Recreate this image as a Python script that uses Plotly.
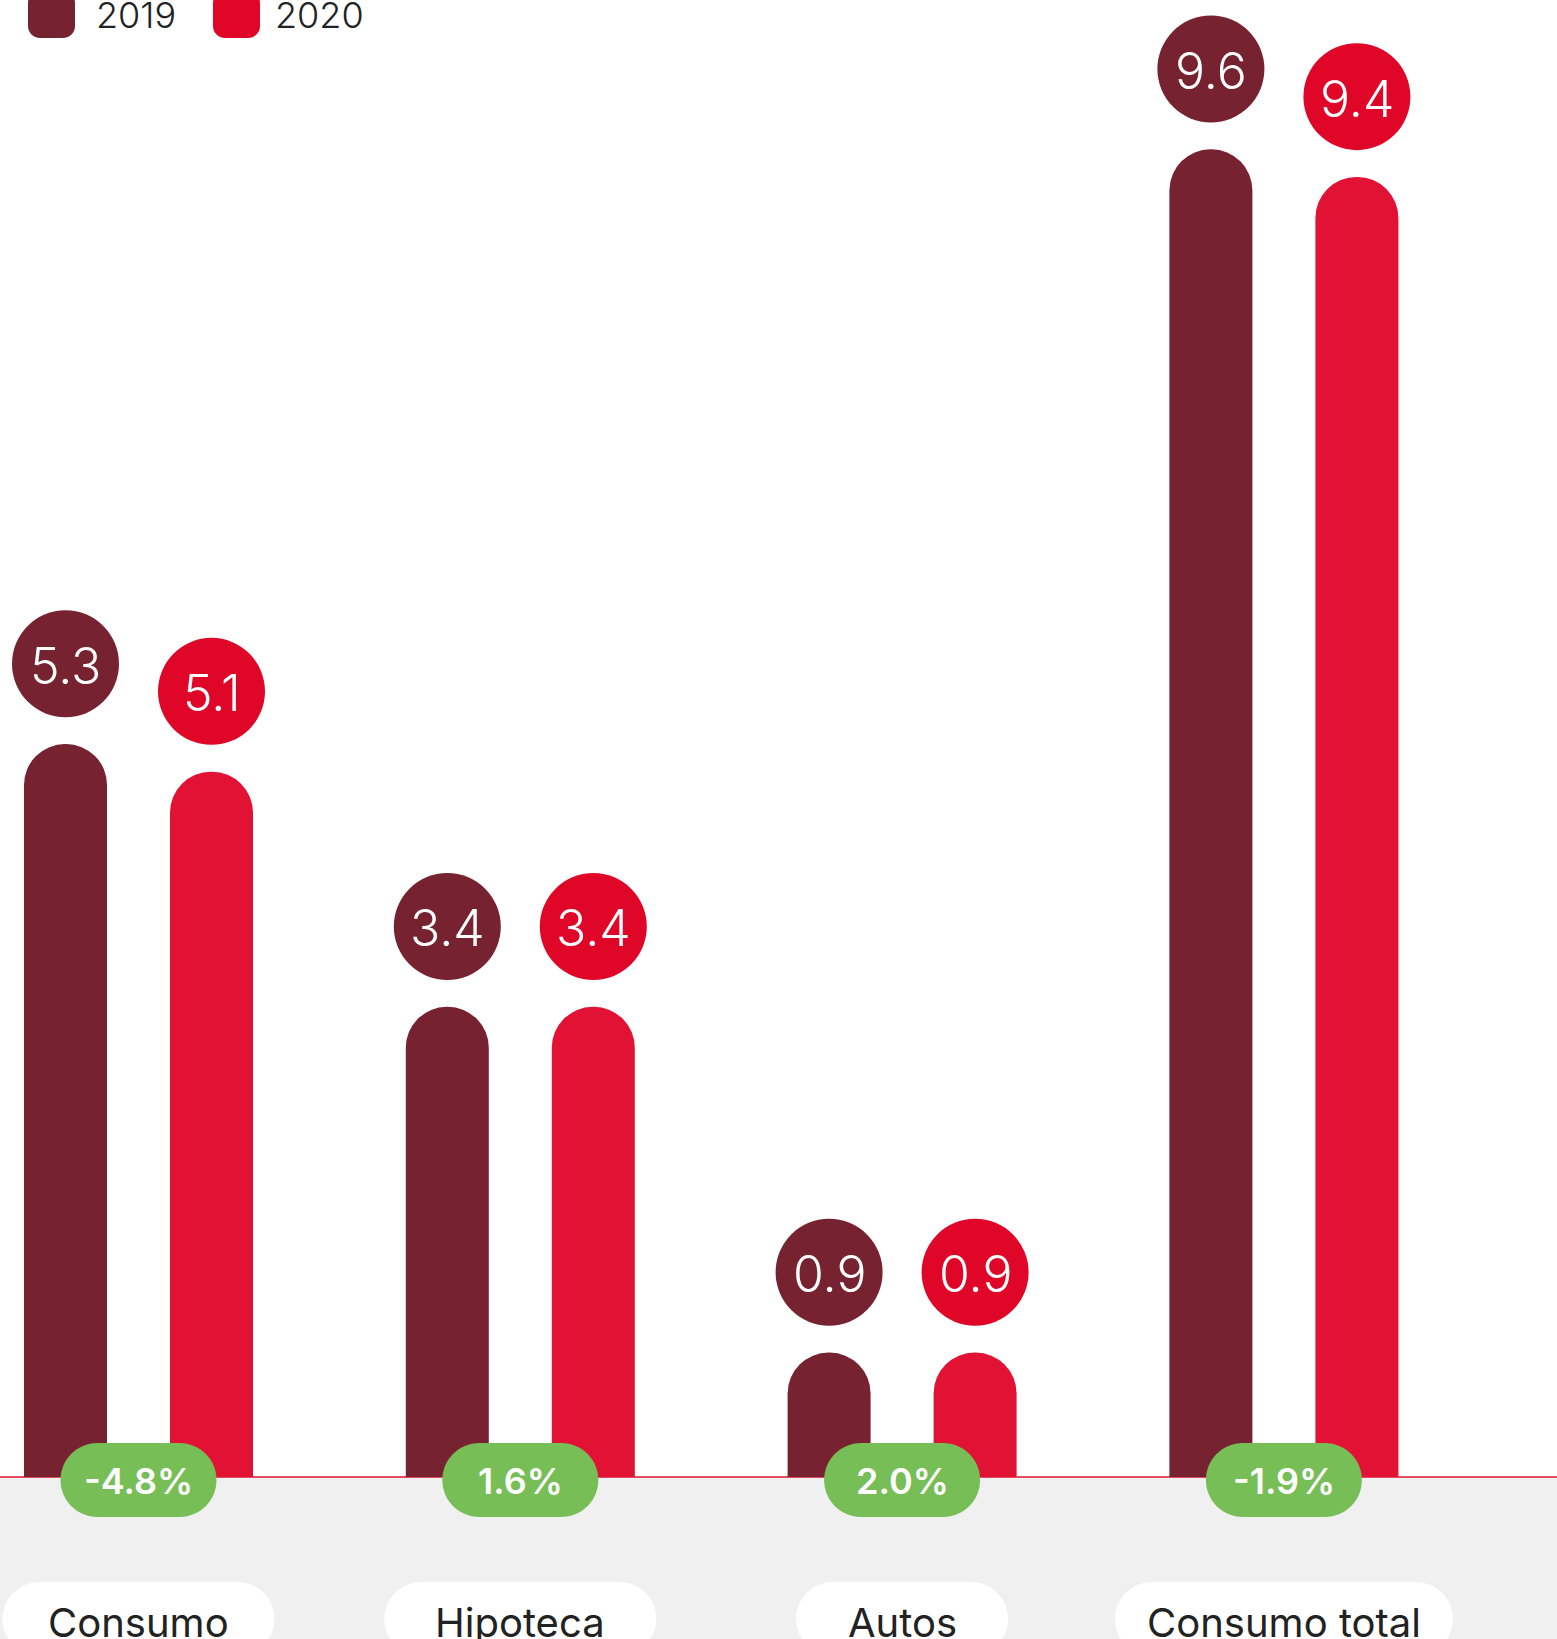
import numpy as np
import plotly.graph_objects as go

# ---- data ----
categories = ["Consumo", "Hipoteca", "Autos", "Consumo total"]
values_2019 = [5.3, 3.4, 0.9, 9.6]
values_2020 = [5.1, 3.4, 0.9, 9.4]
changes = ["-4.8%", "1.6%", "2.0%", "-1.9%"]
years = ["2019", "2020"]

# ---- style ----
C2019 = "#772230"
C2020_BAR = "#E11233"
C2020_DOT = "#DF0628"
GREEN = "#77BE57"
GREY_BG = "#F0F0F0"
TEXT = "#222222"
FONT = "Inter"

W, H = 1557, 1639
PX_PER_CAT = 381.8          # horizontal pixels per category
FIRST_CENTER_PX = 138.5     # pixel x of the first group centre
PX_PER_UNIT = 138.3         # vertical pixels per value unit
BASE_PX = 1477              # pixel y of the zero line

bar_w = 83 / PX_PER_CAT
half_sep = 73 / PX_PER_CAT
bubble_d = 107
bubble_lift = 80.3 / PX_PER_UNIT
label_pill_w = [272, 272, 212, 338]

idx = np.arange(len(categories))
x_range = [-FIRST_CENTER_PX / PX_PER_CAT, (W - FIRST_CENTER_PX) / PX_PER_CAT]
y_range = [-(H - BASE_PX) / PX_PER_UNIT, BASE_PX / PX_PER_UNIT]


def pill_path(cx, cy, w, h):
    """Stadium shape in pixel offsets around (cx, cy); y positive is up."""
    r = h / 2
    k = 0.5523 * r
    x0, x1 = cx - w / 2 + r, cx + w / 2 - r
    y0, y1 = cy - r, cy + r
    return (f"M{x0},{y1} L{x1},{y1} "
            f"C{x1 + k},{y1} {x1 + r},{cy + k} {x1 + r},{cy} "
            f"C{x1 + r},{cy - k} {x1 + k},{y0} {x1},{y0} "
            f"L{x0},{y0} "
            f"C{x0 - k},{y0} {x0 - r},{cy - k} {x0 - r},{cy} "
            f"C{x0 - r},{cy + k} {x0 - k},{y1} {x0},{y1} Z")


def round_rect_path(x0, y0, x1, y1, r):
    """Rounded rectangle in pixel offsets; y0 < y1, y positive is up."""
    k = 0.5523 * r
    return (f"M{x0 + r},{y1} L{x1 - r},{y1} "
            f"C{x1 - r + k},{y1} {x1},{y1 - r + k} {x1},{y1 - r} "
            f"L{x1},{y0 + r} "
            f"C{x1},{y0 + r - k} {x1 - r + k},{y0} {x1 - r},{y0} "
            f"L{x0 + r},{y0} "
            f"C{x0 + r - k},{y0} {x0},{y0 + r - k} {x0},{y0 + r} "
            f"L{x0},{y1 - r} "
            f"C{x0},{y1 - r + k} {x0 + r - k},{y1} {x0 + r},{y1} Z")


fig = go.Figure()
annotations = []

# bars with rounded tops
for vals, sign, color, name in [(values_2019, -1, C2019, years[0]),
                                (values_2020, 1, C2020_BAR, years[1])]:
    fig.add_trace(go.Bar(
        x=idx, y=vals, name=name,
        width=bar_w, offset=sign * half_sep - bar_w / 2,
        marker=dict(color=color, cornerradius="50%", line=dict(width=0)),
        showlegend=False, hoverinfo="skip",
    ))

# value bubbles above each bar, with the value written inside
for vals, sign, color in [(values_2019, -1, C2019),
                          (values_2020, 1, C2020_DOT)]:
    bx = idx + sign * half_sep
    by = np.array(vals) + bubble_lift
    fig.add_trace(go.Scatter(
        x=bx, y=by, mode="markers",
        marker=dict(size=bubble_d, color=color, line=dict(width=0)),
        showlegend=False, hoverinfo="skip", cliponaxis=False,
    ))
    for xv, yv, v in zip(bx, by, vals):
        annotations.append(dict(
            x=xv, y=yv, xref="x", yref="y", yshift=-2, showarrow=False,
            text=f"{v:.1f}", xanchor="center", yanchor="middle",
            font=dict(family=FONT, size=50, color="white", weight=300)))

shapes = [
    # grey band under the zero line
    dict(type="rect", xref="paper", yref="y", x0=0, x1=1, y0=y_range[0] - 1, y1=0,
         fillcolor=GREY_BG, line=dict(width=0), layer="below"),
    # zero line
    dict(type="line", xref="paper", yref="y", x0=0, x1=1, y0=0, y1=0,
         line=dict(color=C2020_BAR, width=1.5), layer="below"),
]

for i, cat in enumerate(categories):
    # green change pill straddling the zero line
    shapes.append(dict(
        type="path", xref="x", yref="y", xsizemode="pixel", ysizemode="pixel",
        xanchor=i, yanchor=0, path=pill_path(0, -3, 156, 74),
        fillcolor=GREEN, line=dict(width=0), layer="above"))
    annotations.append(dict(
        x=i, y=0, xref="x", yref="y", yshift=-4, showarrow=False,
        text=changes[i], xanchor="center", yanchor="middle",
        font=dict(family=FONT, size=36, color="white", weight=600)))
    # white category label pill
    shapes.append(dict(
        type="path", xref="x", yref="y", xsizemode="pixel", ysizemode="pixel",
        xanchor=i, yanchor=0, path=pill_path(0, -142, label_pill_w[i], 74),
        fillcolor="white", line=dict(width=0), layer="above"))
    annotations.append(dict(
        x=i, y=0, xref="x", yref="y", yshift=-145, showarrow=False,
        text=cat, xanchor="center", yanchor="middle",
        font=dict(family=FONT, size=40, color=TEXT, weight=400)))

# legend swatches and labels along the top edge
for (sx, tx, color, label) in [(28, 94, C2019, years[0]), (213, 273, C2020_DOT, years[1])]:
    shapes.append(dict(
        type="path", xref="paper", yref="paper", xsizemode="pixel", ysizemode="pixel",
        xanchor=0, yanchor=1, path=round_rect_path(sx, -38, sx + 47, 9, 12),
        fillcolor=color, line=dict(width=0), layer="above"))
    annotations.append(dict(
        x=0, y=1, xref="paper", yref="paper", xshift=tx, yshift=-15,
        showarrow=False, text=label, xanchor="left", yanchor="middle",
        font=dict(family=FONT, size=36, color=TEXT, weight=300)))

fig.update_layout(
    width=W, height=H,
    margin=dict(l=0, r=0, t=0, b=0),
    paper_bgcolor="white", plot_bgcolor="white",
    xaxis=dict(range=x_range, visible=False, fixedrange=True),
    yaxis=dict(range=y_range, visible=False, fixedrange=True),
    shapes=shapes, annotations=annotations,
    showlegend=False,
)

fig.write_html("out.html")
